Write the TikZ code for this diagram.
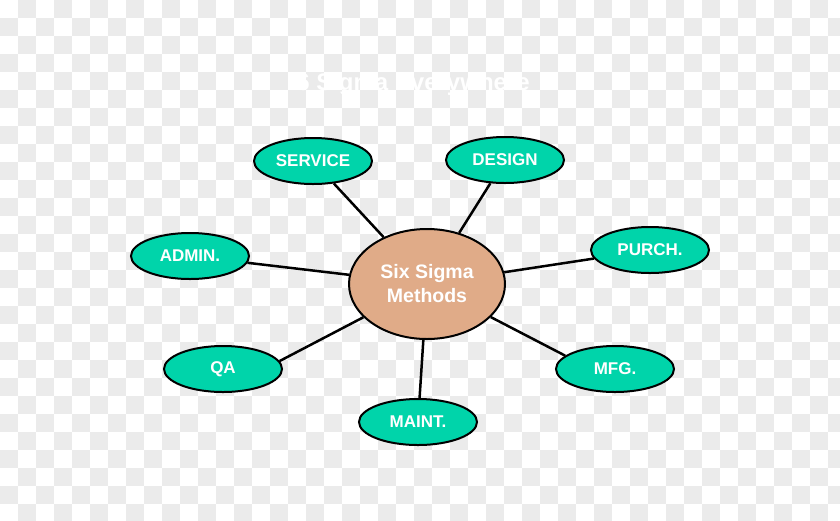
\documentclass[tikz,border=0pt]{standalone}
\usepackage{fontspec}
\setmainfont{Liberation Sans}
\usetikzlibrary{shapes.geometric}
\definecolor{checkgray}{HTML}{EBEBEB}
\definecolor{tealfill}{HTML}{00D4AA}
\definecolor{tanfill}{HTML}{E0AB88}
\tikzset{
  sat/.style={ellipse, draw=black, line width=2pt, fill=tealfill, minimum width=118pt, minimum height=46pt, inner sep=0pt, text=white, font=\bfseries\fontsize{17}{19}\selectfont},
  hub/.style={ellipse, draw=black, line width=2pt, fill=tanfill, minimum width=156pt, minimum height=110pt, inner sep=0pt, text=white, align=center, font=\bfseries\fontsize{19.5}{24}\selectfont},
  link/.style={draw=black, line width=2.5pt}
}
\begin{document}
\begin{tikzpicture}[x=1pt,y=-1pt]
\useasboundingbox (0,0) rectangle (840,520);
\fill[white] (0,0) rectangle (840,520);
\foreach \i in {0,...,46}{
  \foreach \j in {0,...,28}{
    \pgfmathtruncatemacro\k{\i+\j}
    \ifodd\k
      \fill[checkgray] (\i*18,\j*18) rectangle ++(18,18);
    \fi
  }
}
\node[text=white, font=\bfseries\fontsize{24}{28}\selectfont, anchor=base] (title) at (413,90) {6 Sigma Everywhere};
\node[hub] (c) at (427,284) {Six Sigma\\Methods};
\node[sat] (service) at (313,161) {SERVICE};
\node[sat] (design) at (505,160) {DESIGN};
\node[sat] (admin) at (190,256) {ADMIN.};
\node[sat] (purch) at (650,250) {PURCH.};
\node[sat] (qa) at (223,369) {QA};
\node[sat] (mfg) at (615,369) {MFG.};
\node[sat] (maint) at (418,422) {MAINT.};
\foreach \s in {service,design,admin,purch,maint}{
  \draw[link] (c) -- (\s);
}
\draw[link] (c) -- (qa.8);
\draw[link] (c) -- (mfg.165);
\end{tikzpicture}
\end{document}
